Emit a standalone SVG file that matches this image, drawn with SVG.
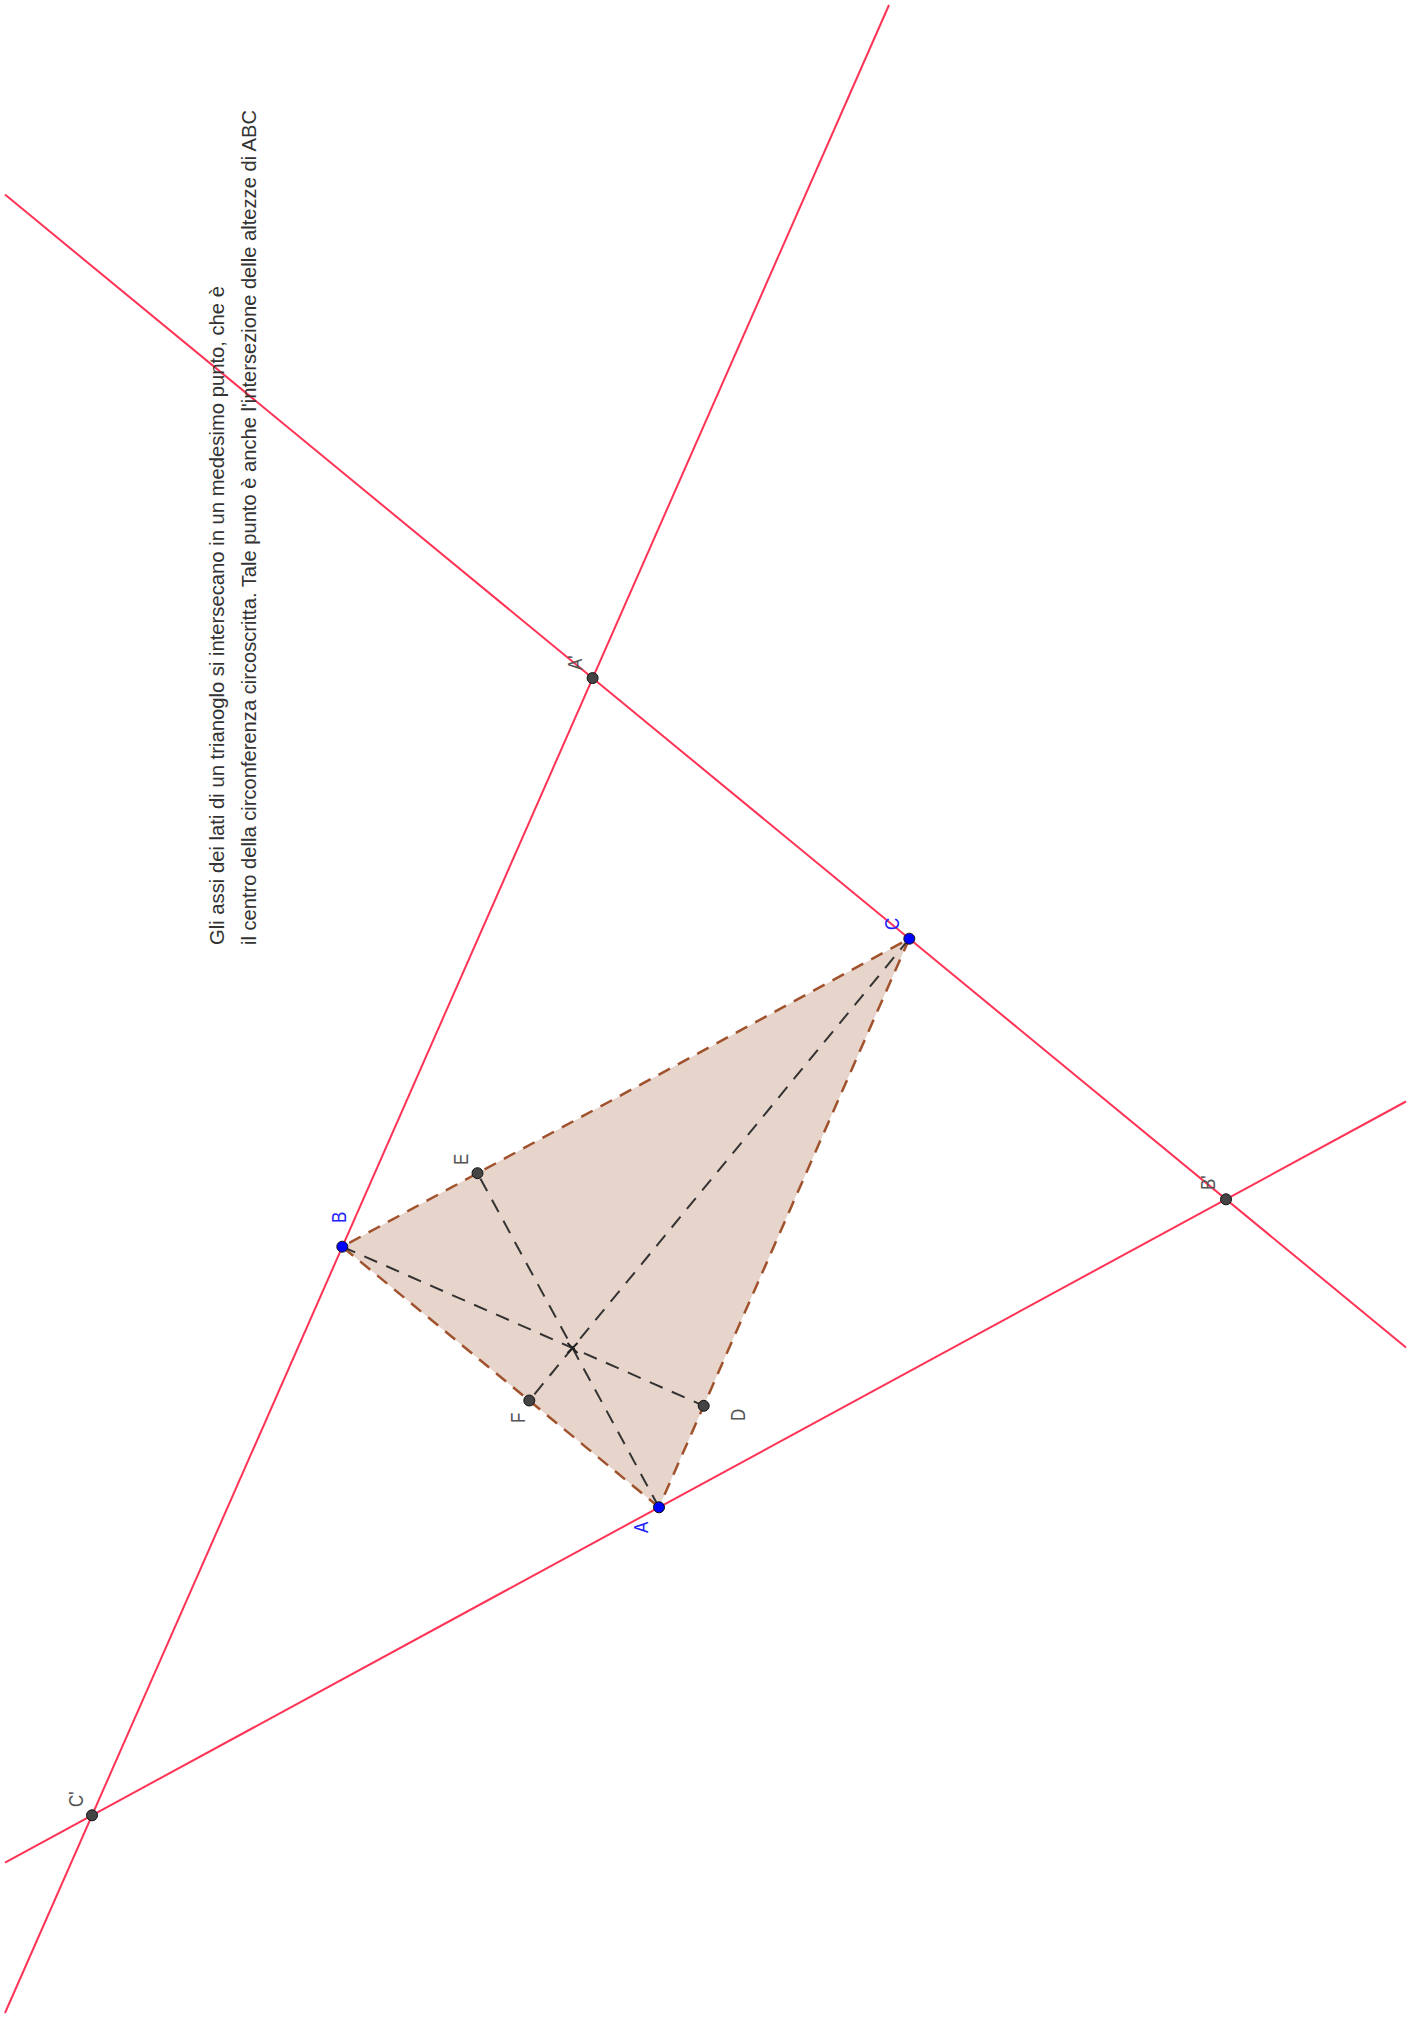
<svg xmlns="http://www.w3.org/2000/svg" width="1415" height="2022" viewBox="0 0 1415 2022">
<style>
.line{stroke:#ff3355;stroke-width:2;fill:none}
.edge{stroke:#a0522d;stroke-width:2.5;stroke-dasharray:13 9;fill:none}
.alt{stroke:#333;stroke-width:2;stroke-dasharray:14 10;fill:none}
.pt{fill:#444;stroke:#111;stroke-width:1}
.bpt{fill:#0000ff;stroke:#111;stroke-width:1}
.lbl{font-family:"Liberation Sans",Arial,sans-serif;font-size:17px;fill:#555}
.blbl{font-family:"Liberation Sans",Arial,sans-serif;font-size:17px;fill:#2222ff}
.txt{font-family:"Liberation Sans",Arial,sans-serif;font-size:17px;fill:#333}
</style>
<rect width="1415" height="2022" fill="#fff"/>
<g id="triangle-fill">
<polygon points="659,1507.3 342.3,1246.7 909.3,938.7" fill="#a0522d" fill-opacity="0.25"/>
</g>
<g id="connectors">
<line class="line" x1="5" y1="2013" x2="889" y2="5"/>
<line class="line" x1="5" y1="194.6" x2="1406" y2="1347.4"/>
<line class="line" x1="5" y1="1862.6" x2="1406" y2="1101.5"/>
<polyline class="edge" points="659,1507.3 342.3,1246.7 909.3,938.7 659,1507.3"/>
<line class="alt" x1="659" y1="1507.3" x2="477.5" y2="1173.2"/>
<line class="alt" x1="342.3" y1="1246.7" x2="703.7" y2="1405.8"/>
<line class="alt" x1="909.3" y1="938.7" x2="529.3" y2="1400.5"/>
</g>
<g id="orthocenter">
<path d="M567.5,1343 L577.5,1353 M567.5,1353 L577.5,1343" stroke="#222" stroke-width="2"/>
</g>
<g id="node-Cp"><circle class="pt" cx="92" cy="1815.3" r="5.5"/><text class="lbl" transform="translate(83,1807) rotate(-90) scale(1,1.15)">C'</text></g>
<g id="node-Ap"><circle class="pt" cx="592.6" cy="678.1" r="5.5"/><text class="lbl" transform="translate(582,670) rotate(-90) scale(1,1.15)">A'</text></g>
<g id="node-Bp"><circle class="pt" cx="1226" cy="1199.3" r="5.5"/><text class="lbl" transform="translate(1215,1190) rotate(-90) scale(1,1.15)">B'</text></g>
<g id="node-E"><circle class="pt" cx="477.5" cy="1173.2" r="5.5"/><text class="lbl" transform="translate(468,1165) rotate(-90) scale(1,1.15)">E</text></g>
<g id="node-F"><circle class="pt" cx="529.3" cy="1400.5" r="5.5"/><text class="lbl" transform="translate(525,1423) rotate(-90) scale(1,1.15)">F</text></g>
<g id="node-D"><circle class="pt" cx="703.7" cy="1405.8" r="5.5"/><text class="lbl" transform="translate(745,1421) rotate(-90) scale(1,1.15)">D</text></g>
<g id="node-A"><circle class="bpt" cx="659" cy="1507.3" r="5.5"/><text class="blbl" transform="translate(648,1533) rotate(-90) scale(1,1.15)">A</text></g>
<g id="node-B"><circle class="bpt" cx="342.3" cy="1246.7" r="5.5"/><text class="blbl" transform="translate(346,1223) rotate(-90) scale(1,1.15)">B</text></g>
<g id="node-C"><circle class="bpt" cx="909.3" cy="938.7" r="5.5"/><text class="blbl" transform="translate(899,930) rotate(-90) scale(1,1.15)">C</text></g>
<g id="caption">
<text class="txt" transform="translate(224,945) rotate(-90) scale(1,1.15)" textLength="659" lengthAdjust="spacingAndGlyphs">Gli assi dei lati di un trianoglo si intersecano in un medesimo punto, che è</text>
<text class="txt" transform="translate(256,945) rotate(-90) scale(1,1.15)" textLength="835" lengthAdjust="spacingAndGlyphs">il centro della circonferenza circoscritta. Tale punto è anche l'intersezione delle altezze di ABC</text>
</g>
</svg>
